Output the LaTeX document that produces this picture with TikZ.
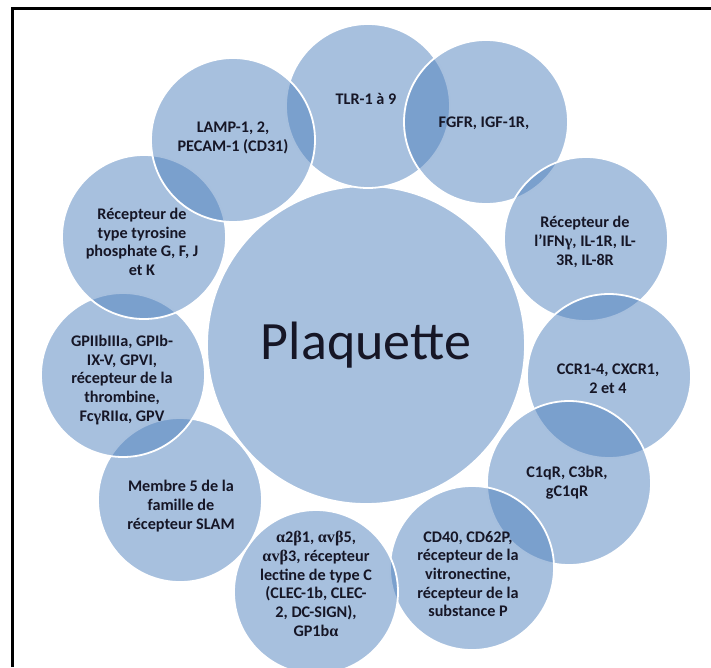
\documentclass[tikz,border=0pt]{standalone}
\usepackage{fontspec}
\setmainfont{Carlito}
\newfontfamily\gr{Liberation Serif}
\definecolor{acc}{RGB}{79,129,189}
\definecolor{txt}{RGB}{22,22,38}
\tikzset{
  cir/.style={circle, draw=white, line width=1.8pt, fill=acc, fill opacity=0.5, draw opacity=1, minimum size=164pt, inner sep=0pt},
  bigcir/.style={cir, minimum size=318pt},
  lbl/.style={align=center, text=txt, inner sep=0pt, font=\bfseries\fontsize{16.2}{18.7}\selectfont},
  frameline/.style={line width=3pt, black},
}
\begin{document}
\begin{tikzpicture}[x=1pt,y=-1pt]
\useasboundingbox (0,0) rectangle (711,667);
\coordinate (fa) at (12.5,667);
\coordinate (fb) at (12.5,8);
\coordinate (fc) at (711,8);
\draw[frameline] (fa) -- (fb) -- (fc);

\node[bigcir] (c0) at (366,345) {};
\node[cir] (c1) at (368,106) {};
\node[cir] (c2) at (486,122) {};
\node[cir] (c3) at (586,239) {};
\node[cir] (c4) at (609,376) {};
\node[cir] (c5) at (569,483) {};
\node[cir] (c6) at (472,568) {};
\node[cir] (c7) at (316,592) {};
\node[cir] (c8) at (180,500) {};
\node[cir] (c9) at (123,375) {};
\node[cir] (c10) at (144,237) {};
\node[cir] (c11) at (233,140) {};

\node[text=txt, inner sep=0pt, font=\fontsize{54}{60}\selectfont] (t0) at (366,345) {Plaquette};
\node[lbl] (t1) at (366,99) {TLR-1 à 9};
\node[lbl] (t2) at (484,123) {FGFR, IGF-1R,};
\node[lbl] (t3) at (585,242) {Récepteur de\\l’IFN{\gr γ}, IL-1R, IL-\\3R, IL-8R};
\node[lbl] (t4) at (608,379) {CCR1-4, CXCR1,\\2 et 4};
\node[lbl] (t5) at (567,483) {C1qR, C3bR,\\gC1qR};
\node[lbl] (t6) at (468,574) {CD40, CD62P,\\récepteur de la\\vitronectine,\\récepteur de la\\substance P};
\node[lbl] (t7) at (316,584) {{\gr α}2{\gr β}1, {\gr αvβ}5,\\{\gr αvβ}3, récepteur\\lectine de type C\\(CLEC-1b, CLEC-\\2, DC-SIGN),\\GP1b{\gr α}};
\node[lbl] (t8) at (181,506) {Membre 5 de la\\famille de\\récepteur SLAM};
\node[lbl] (t9) at (122,380) {GPIIbIIIa, GPIb-\\IX-V, GPVI,\\récepteur de la\\thrombine,\\Fc{\gr γ}RII{\gr α}, GPV};
\node[lbl] (t10) at (142,242) {Récepteur de\\type tyrosine\\phosphate G, F, J\\et K};
\node[lbl] (t11) at (233,138) {LAMP-1, 2,\\PECAM-1 (CD31)};
\end{tikzpicture}
\end{document}
